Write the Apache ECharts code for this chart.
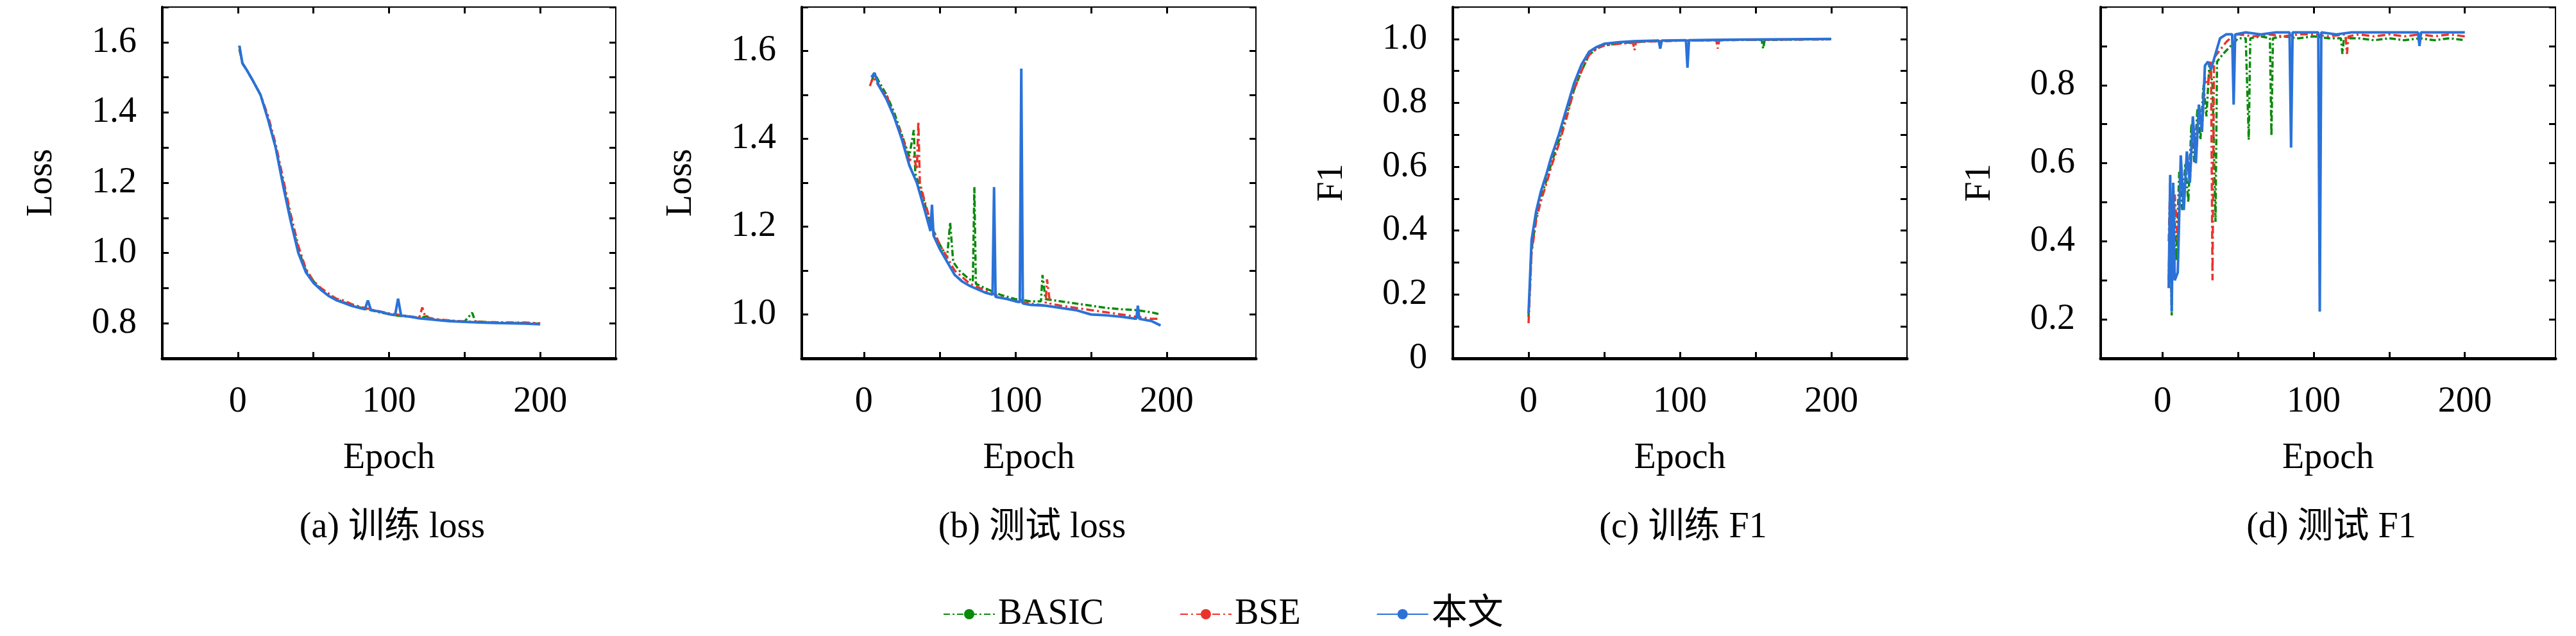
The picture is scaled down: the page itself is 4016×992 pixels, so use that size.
<!DOCTYPE html>
<html><head><meta charset="utf-8">
<script src="https://cdn.jsdelivr.net/npm/echarts@6/dist/echarts.min.js"></script>
<style>html,body{margin:0;padding:0;background:#fff}#c{width:4016px;height:992px}</style>
</head><body><div id="c"></div>
<script>
const seriesNames = ['BASIC', 'BSE', '本文'];
const captions = ['(a) 训练 loss', '(b) 测试 loss', '(c) 训练 F1', '(d) 测试 F1'];
const yNames = ['Loss', 'Loss', 'F1', 'F1'];
const xTickLabels = [0, 100, 200];

// (a) train loss
const aBasic = [[1,1.58],[3,1.54],[6,1.52],[10,1.49],[15,1.45],[20,1.38],[25,1.30],[30,1.20],[35,1.10],[40,1.01],[45,0.95],[50,0.92],[55,0.895],[60,0.88],[65,0.87],[70,0.86],[75,0.853],[80,0.846],[85,0.84],[90,0.835],[95,0.83],[100,0.826],[105,0.822],[110,0.82],[120,0.815],[125,0.82],[130,0.81],[140,0.807],[150,0.805],[155,0.83],[157,0.806],[165,0.803],[175,0.802],[185,0.801],[200,0.799]];
const aBSE = [[1,1.59],[3,1.54],[6,1.52],[10,1.49],[15,1.45],[20,1.39],[25,1.31],[30,1.21],[35,1.11],[40,1.02],[45,0.955],[50,0.92],[55,0.9],[60,0.885],[65,0.87],[70,0.865],[75,0.855],[80,0.848],[90,0.837],[100,0.828],[110,0.822],[120,0.816],[122,0.845],[124,0.818],[130,0.812],[140,0.808],[150,0.805],[160,0.804],[170,0.803],[180,0.802],[190,0.802],[200,0.8]];
const aMine = [[1,1.59],[3,1.54],[6,1.52],[10,1.49],[15,1.45],[20,1.38],[25,1.30],[30,1.19],[35,1.09],[40,1.0],[45,0.945],[50,0.915],[55,0.895],[60,0.878],[65,0.866],[70,0.858],[75,0.85],[80,0.844],[84,0.84],[86,0.865],[88,0.838],[95,0.832],[100,0.826],[104,0.823],[106,0.87],[108,0.822],[115,0.818],[120,0.814],[130,0.81],[140,0.806],[150,0.804],[160,0.802],[170,0.801],[180,0.8],[190,0.799],[200,0.797]];

// (b) test loss
const bBasic = [[5,1.53],[7,1.55],[10,1.53],[15,1.5],[20,1.46],[25,1.41],[30,1.36],[33,1.42],[34,1.32],[38,1.28],[42,1.23],[46,1.19],[50,1.16],[55,1.13],[57,1.21],[59,1.12],[63,1.1],[68,1.085],[72,1.075],[73,1.29],[74,1.07],[80,1.06],[90,1.045],[100,1.035],[110,1.03],[117,1.03],[118,1.09],[120,1.035],[130,1.03],[140,1.025],[150,1.02],[160,1.015],[170,1.012],[180,1.01],[190,1.005],[196,1.0]];
const bBSE = [[4,1.52],[6,1.54],[10,1.52],[15,1.5],[20,1.45],[25,1.41],[30,1.35],[33,1.36],[35,1.33],[36,1.44],[37,1.3],[40,1.26],[45,1.2],[50,1.16],[55,1.13],[60,1.1],[65,1.085],[70,1.07],[80,1.055],[90,1.04],[100,1.03],[110,1.025],[120,1.02],[121,1.08],[123,1.025],[130,1.02],[140,1.015],[150,1.01],[160,1.005],[170,1.0],[180,0.995],[190,0.99],[196,0.99]];
const bMine = [[5,1.54],[7,1.55],[10,1.52],[15,1.49],[20,1.45],[25,1.4],[30,1.34],[35,1.3],[40,1.24],[44,1.19],[45,1.25],[46,1.18],[50,1.15],[55,1.12],[60,1.09],[65,1.075],[70,1.065],[80,1.05],[85,1.045],[86,1.29],[87,1.04],[95,1.035],[100,1.03],[103,1.028],[104,1.56],[105,1.025],[110,1.022],[120,1.02],[130,1.015],[140,1.01],[150,1.0],[160,0.998],[170,0.995],[180,0.99],[181,1.02],[182,0.99],[190,0.985],[196,0.975]];

// (c) train F1
const cBasic = [[0,0.13],[2,0.34],[5,0.44],[8,0.5],[12,0.56],[15,0.61],[20,0.68],[25,0.76],[30,0.84],[35,0.9],[40,0.95],[45,0.97],[50,0.98],[60,0.987],[70,0.99],[80,0.993],[100,0.995],[120,0.996],[140,0.997],[154,0.997],[155,0.97],[156,0.997],[170,0.998],[200,0.999]];
const cBSE = [[0,0.11],[2,0.33],[5,0.43],[8,0.49],[12,0.55],[15,0.6],[20,0.67],[25,0.75],[30,0.84],[35,0.9],[40,0.95],[45,0.97],[50,0.98],[60,0.985],[69,0.988],[70,0.965],[71,0.99],[80,0.992],[100,0.995],[124,0.996],[125,0.97],[126,0.996],[140,0.997],[170,0.998],[200,0.999]];
const cMine = [[0,0.14],[2,0.37],[5,0.46],[8,0.52],[12,0.58],[15,0.63],[20,0.7],[25,0.78],[30,0.86],[35,0.92],[40,0.96],[45,0.975],[50,0.985],[60,0.99],[70,0.993],[86,0.995],[87,0.97],[88,0.995],[104,0.996],[105,0.91],[106,0.996],[120,0.997],[140,0.998],[170,0.999],[200,1.0]];

// (d) test F1
const dBasic = [[4,0.3],[5,0.5],[6,0.21],[7,0.55],[9,0.35],[11,0.58],[13,0.48],[15,0.6],[17,0.5],[19,0.7],[21,0.6],[23,0.74],[25,0.66],[27,0.8],[29,0.72],[31,0.86],[33,0.8],[35,0.45],[36,0.86],[40,0.88],[45,0.9],[50,0.92],[55,0.92],[57,0.66],[58,0.92],[65,0.925],[71,0.92],[72,0.67],[73,0.92],[80,0.925],[90,0.92],[100,0.925],[110,0.92],[118,0.92],[119,0.88],[120,0.92],[130,0.92],[140,0.915],[150,0.92],[160,0.915],[170,0.92],[180,0.915],[190,0.92],[200,0.915]];
const dBSE = [[4,0.4],[5,0.55],[6,0.26],[8,0.52],[10,0.4],[12,0.58],[14,0.5],[16,0.62],[18,0.55],[20,0.7],[22,0.64],[24,0.74],[26,0.68],[28,0.82],[30,0.8],[32,0.86],[33,0.3],[34,0.87],[38,0.89],[42,0.91],[46,0.925],[50,0.93],[60,0.925],[70,0.93],[80,0.925],[90,0.93],[100,0.93],[110,0.925],[121,0.93],[122,0.88],[123,0.925],[130,0.93],[140,0.925],[150,0.93],[160,0.925],[170,0.93],[180,0.925],[190,0.93],[200,0.925]];
const dMine = [[4,0.28],[5,0.57],[6,0.22],[7,0.55],[8,0.3],[10,0.32],[12,0.62],[14,0.48],[16,0.63],[18,0.55],[20,0.72],[22,0.6],[24,0.75],[26,0.68],[28,0.85],[30,0.86],[32,0.84],[35,0.88],[38,0.92],[42,0.93],[46,0.93],[47,0.75],[48,0.93],[55,0.935],[65,0.93],[75,0.935],[84,0.935],[85,0.64],[86,0.935],[95,0.935],[103,0.935],[104,0.22],[105,0.935],[115,0.93],[125,0.935],[140,0.935],[155,0.935],[169,0.935],[170,0.9],[171,0.935],[185,0.935],[200,0.935]];

const panels = [
  {data:[aBasic,aBSE,aMine], xmin:-50, xmax:250, ymin:0.7, ymax:1.7, yLab:[0.8,1.0,1.2,1.4,1.6], yTick:[0.7,0.8,0.9,1.0,1.1,1.2,1.3,1.4,1.5,1.6,1.7], left:253, width:707, dec:1},
  {data:[bBasic,bBSE,bMine], xmin:-41, xmax:259, ymin:0.9, ymax:1.7, yLab:[1.0,1.2,1.4,1.6], yTick:[0.9,1.0,1.1,1.2,1.3,1.4,1.5,1.6,1.7], left:1250, width:708, dec:1},
  {data:[cBasic,cBSE,cMine], xmin:-50, xmax:250, ymin:0, ymax:1.1, yLab:[0,0.2,0.4,0.6,0.8,1.0], yTick:[0,0.1,0.2,0.3,0.4,0.5,0.6,0.7,0.8,0.9,1.0,1.1], left:2265, width:708, dec:1},
  {data:[dBasic,dBSE,dMine], xmin:-41, xmax:260, ymin:0.1, ymax:1.0, yLab:[0.2,0.4,0.6,0.8], yTick:[0.1,0.2,0.3,0.4,0.5,0.6,0.7,0.8,0.9,1.0], left:3275, width:709, dec:1}
];
const styles = [
  {color:'#0a8a0a', type:[10,4,3,4]},
  {color:'#e8342c', type:[12,5,3,5]},
  {color:'#2a72d8', type:'solid'}
];
const FONT = '"Liberation Serif","Noto Sans CJK SC",serif';
const FS = 56;
const grids=[], xAxes=[], yAxes=[], series=[], titles=[];
panels.forEach((p,i)=>{
  grids.push({left:p.left, width:p.width, top:11, height:548, show:true, borderColor:'#000', borderWidth:2});
  const xTicks=[0,50,100,150,200];
  const mkX=(pos,lab)=>({type:'value', gridIndex:i, position:pos, min:p.xmin, max:p.xmax,
    name: lab?'Epoch':'', nameLocation:'middle', nameGap:128, nameTextStyle:{fontFamily:FONT,fontSize:FS,color:'#000'},
    axisLine:{show:true,onZero:false,lineStyle:{color:'#000',width:lab?5:2}},
    axisTick:{show:true,inside:true,length:10,customValues:xTicks,lineStyle:{color:'#000',width:3}},
    axisLabel:{show:lab,customValues:xTickLabels,margin:40,fontFamily:FONT,fontSize:FS,color:'#000'},
    splitLine:{show:false}});
  xAxes.push(mkX('bottom',true)); xAxes.push(mkX('top',false));
  const mkY=(pos,lab)=>({type:'value', gridIndex:i, position:pos, min:p.ymin, max:p.ymax,
    name: lab?yNames[i]:'', nameLocation:'middle', nameGap:160, nameRotate:90, nameTextStyle:{fontFamily:FONT,fontSize:FS,color:'#000'},
    axisLine:{show:true,onZero:false,lineStyle:{color:'#000',width:lab?4:2}},
    axisTick:{show:true,inside:true,length:10,customValues:p.yTick,lineStyle:{color:'#000',width:3}},
    axisLabel:{show:lab,customValues:p.yLab,margin:40,fontFamily:FONT,fontSize:FS,color:'#000',
      formatter:v=>(Math.abs(v)<1e-9?'0':v.toFixed(1))},
    splitLine:{show:false}});
  yAxes.push(mkY('left',true)); yAxes.push(mkY('right',false));
  p.data.forEach((d,k)=>{
    series.push({type:'line', name:seriesNames[k], xAxisIndex:2*i, yAxisIndex:2*i, data:d, symbol:'none', z:k+2,
      lineStyle:{color:styles[k].color, width:k===2?4:3.5, type:styles[k].type}, itemStyle:{color:styles[k].color}});
  });
  titles.push({text:captions[i], left:p.left+p.width/2, top:790, textAlign:'center',
    textStyle:{fontFamily:FONT,fontSize:FS,fontWeight:'normal',color:'#000'}});
});
const chart = echarts.init(document.getElementById('c'));
chart.setOption({
  animation:false, backgroundColor:'#fff',
  title:titles, grid:grids, xAxis:xAxes, yAxis:yAxes, series:series,
  legend:{data:seriesNames, left:1465, top:925, itemWidth:80, itemHeight:20, itemGap:118,
    textStyle:{fontFamily:FONT,fontSize:FS,color:'#000'}}
});
</script></body></html>
